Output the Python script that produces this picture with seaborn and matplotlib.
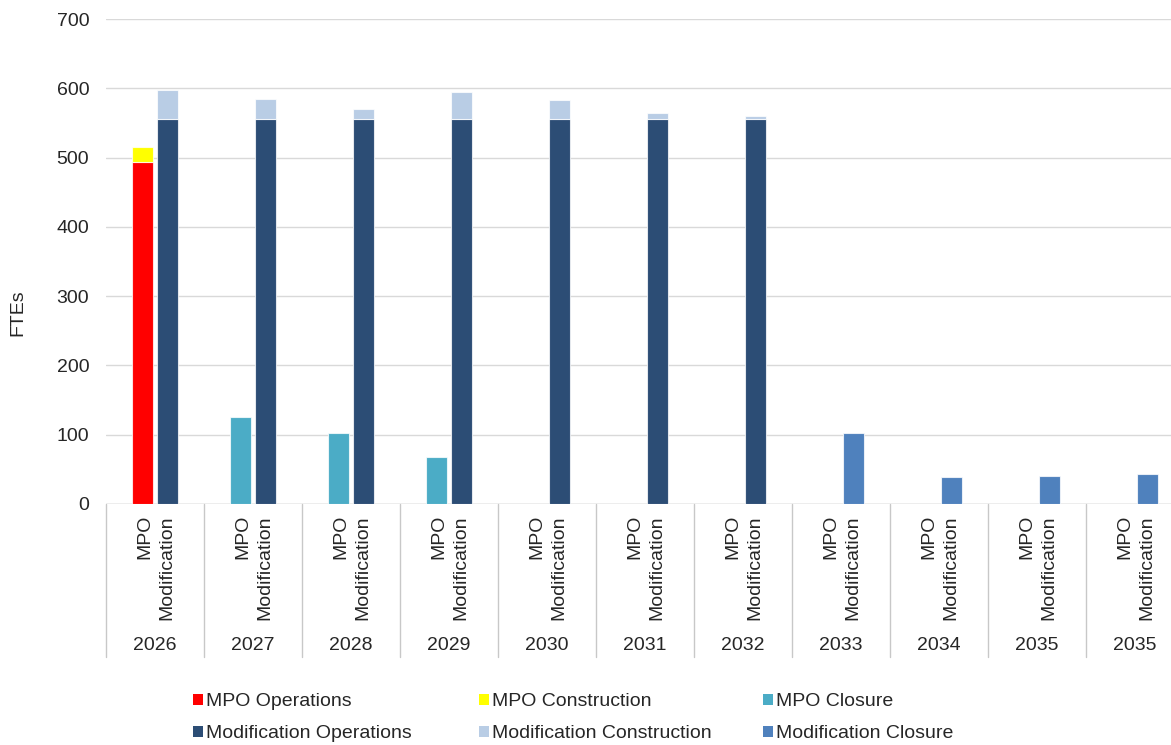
import numpy as np
import pandas as pd
import matplotlib
matplotlib.use("Agg")
import matplotlib.pyplot as plt
from matplotlib.patches import Patch
import seaborn as sns

# ---- data -------------------------------------------------------------
years = ["2026", "2027", "2028", "2029", "2030", "2031",
         "2032", "2033", "2034", "2035", "2035"]
sub_labels = ["MPO", "Modification"]

mpo_operations   = [494, 0, 0, 0, 0, 0, 0, 0, 0, 0, 0]
mpo_construction = [21, 0, 0, 0, 0, 0, 0, 0, 0, 0, 0]
mpo_closure      = [0, 125, 102, 68, 0, 0, 0, 0, 0, 0, 0]

mod_operations   = [555, 555, 555, 555, 555, 555, 555, 0, 0, 0, 0]
mod_construction = [42, 30, 15, 40, 28, 9, 5, 0, 0, 0, 0]
mod_closure      = [0, 0, 0, 0, 0, 0, 0, 103, 39, 40, 43]

# ---- style ------------------------------------------------------------
sns.set_style("white")
plt.rcParams["font.family"] = ["Liberation Sans", "DejaVu Sans"]
plt.rcParams["font.size"] = 14
TEXT = "#262626"
GRID = "#d9d9d9"

colors = {
    "MPO Operations": "#FF0000",
    "MPO Construction": "#FFFF00",
    "MPO Closure": "#4BACC6",
    "Modification Operations": "#2C4D75",
    "Modification Construction": "#B9CDE5",
    "Modification Closure": "#4F81BD",
}

W, H = 1171, 745
fig = plt.figure(figsize=(W / 100, H / 100), dpi=100)
ax_left, ax_right, ax_top, ax_bot = 106, 1184, 19, 504
ax = fig.add_axes([ax_left / W, 1 - ax_bot / H,
                   (ax_right - ax_left) / W, (ax_bot - ax_top) / H])

offset = 0.126
bar_w = 0.214


def stacked(values, bottoms, pos_offset, color):
    idx = [i for i, v in enumerate(values) if v > 0]
    if not idx:
        return
    df = pd.DataFrame({
        "x": np.array(idx, dtype=float) + pos_offset,
        "y": [values[i] for i in idx],
    })
    sns.barplot(data=df, x="x", y="y", orient="x", native_scale=True,
                width=bar_w, color=color, saturation=1, errorbar=None,
                bottom=[bottoms[i] for i in idx],
                edgecolor=(1, 1, 1, 0.75), linewidth=0.8, ax=ax, zorder=3)


zeros = [0] * len(years)
mpo_b2 = [a for a in mpo_operations]
mpo_b3 = [a + b for a, b in zip(mpo_operations, mpo_construction)]
mod_b2 = [a for a in mod_operations]
mod_b3 = [a + b for a, b in zip(mod_operations, mod_construction)]

stacked(mpo_operations, zeros, -offset, colors["MPO Operations"])
stacked(mpo_construction, mpo_b2, -offset, colors["MPO Construction"])
stacked(mpo_closure, mpo_b3, -offset, colors["MPO Closure"])
stacked(mod_operations, zeros, offset, colors["Modification Operations"])
stacked(mod_construction, mod_b2, offset, colors["Modification Construction"])
stacked(mod_closure, mod_b3, offset, colors["Modification Closure"])

# ---- axes -------------------------------------------------------------
ax.set_xlim(-0.5, len(years) - 0.5)
ax.set_ylim(0, 700)
ax.set_yticks(range(0, 701, 100))
ax.set_xticks([])
ax.set_xlabel("")
ax.set_ylabel("")
ax.grid(axis="y", color=GRID, linewidth=1, zorder=0)
ax.set_axisbelow(True)
for s in ax.spines.values():
    s.set_visible(False)
ax.tick_params(axis="y", length=0, pad=12, labelcolor=TEXT, labelsize=14)
ax.axhline(0, color="#c8c8c8", linewidth=1, zorder=2)

# two-level category axis
tr = ax.get_xaxis_transform()
px = 1 / (ax_bot - ax_top)
for i, yr in enumerate(years):
    ax.text(i - offset + 0.02, -11 * px, sub_labels[0], rotation=90,
            ha="center", va="top", transform=tr, color=TEXT, fontsize=14)
    ax.text(i + offset, -11 * px, sub_labels[1], rotation=90,
            ha="center", va="top", transform=tr, color=TEXT, fontsize=14)
    ax.text(i, -141 * px, yr, ha="center", va="center", transform=tr,
            color=TEXT, fontsize=14)
for b in np.arange(-0.5, len(years), 1.0):
    ax.plot([b, b], [0, -153 * px], transform=tr, color="#c8c8c8",
            linewidth=1, clip_on=False)

fig.text(18 / W, 1 - 313 / H, "FTEs", rotation=90, ha="center",
         va="center", color=TEXT, fontsize=14)

# ---- legend -----------------------------------------------------------
legend_cols = [
    (193, ["MPO Operations", "Modification Operations"]),
    (479, ["MPO Construction", "Modification Construction"]),
    (763, ["MPO Closure", "Modification Closure"]),
]
for x0, names in legend_cols:
    handles = [Patch(facecolor=colors[n], edgecolor="none") for n in names]
    fig.legend(handles, names, loc="upper left",
               bbox_to_anchor=(x0 / W, 1 - 693 / H), frameon=False,
               fontsize=14, handlelength=0.5, handleheight=0.5,
               handletextpad=0.15, labelspacing=0.78, borderpad=0,
               borderaxespad=0, labelcolor=TEXT)

fig.savefig("out.png", dpi=100)
